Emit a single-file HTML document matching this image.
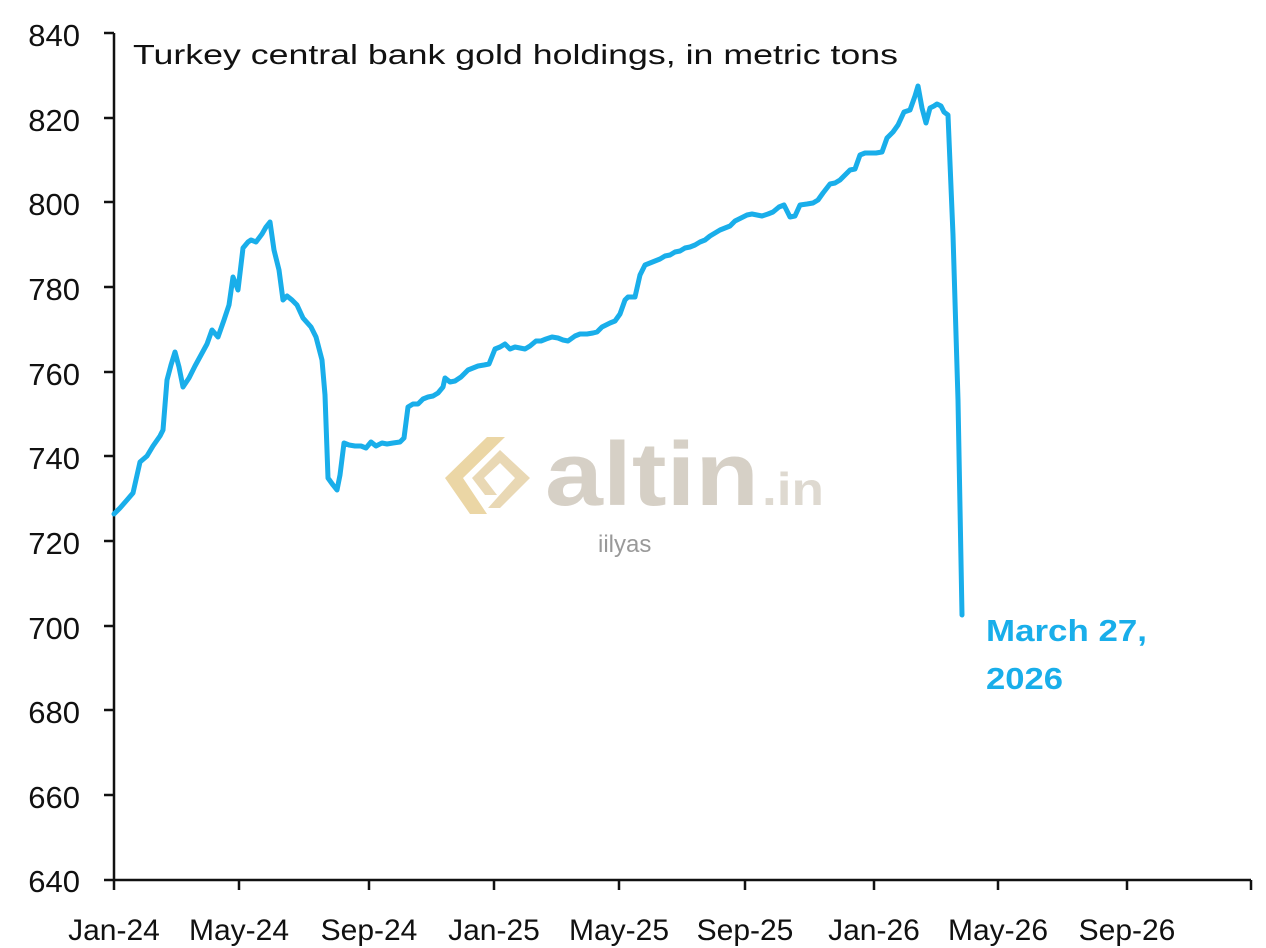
<!DOCTYPE html>
<html><head><meta charset="utf-8"><style>
html,body{margin:0;padding:0;background:#fff;width:1266px;height:948px;overflow:hidden}
text{font-family:"Liberation Sans",sans-serif}
</style></head><body>
<svg width="1266" height="948" viewBox="0 0 1266 948" xmlns="http://www.w3.org/2000/svg">
<g fill="#111" font-size="31" text-anchor="end">
<text x="80" y="46">840</text>
<text x="80" y="131">820</text>
<text x="80" y="215">800</text>
<text x="80" y="300">780</text>
<text x="80" y="385">760</text>
<text x="80" y="469">740</text>
<text x="80" y="554">720</text>
<text x="80" y="639">700</text>
<text x="80" y="723">680</text>
<text x="80" y="808">660</text>
<text x="80" y="892">640</text>
</g>
<g stroke="#111" stroke-width="2.5" fill="none">
<path d="M114,33V880H1251"/>
<path d="M104,33H114M104,118H114M104,202H114M104,287H114M104,372H114M104,456H114M104,541H114M104,626H114M104,710H114M104,795H114M104,880H114"/>
<path d="M114,880V890M239,880V890M369,880V890M494,880V890M619,880V890M745,880V890M874,880V890M998,880V890M1127,880V890M1251,880V890"/>
</g>
<g fill="#111" font-size="30" text-anchor="middle">
<text x="114" y="940">Jan-24</text>
<text x="239" y="940">May-24</text>
<text x="369" y="940">Sep-24</text>
<text x="494" y="940">Jan-25</text>
<text x="619" y="940">May-25</text>
<text x="745" y="940">Sep-25</text>
<text x="874" y="940">Jan-26</text>
<text x="998" y="940">May-26</text>
<text x="1127" y="940">Sep-26</text>
</g>
<text x="133" y="64" font-size="28" fill="#111" textLength="765" lengthAdjust="spacingAndGlyphs">Turkey central bank gold holdings, in metric tons</text>
<g opacity="0.85">
<polygon points="445,478 487,437 505,437 463,478 487,514 470,514" fill="#e8cf96"/>
<polygon points="472,478 500,450 530,478 500,508 488,508 515,478 500,463 484,478 497,495 485,495" fill="#e6d2a8"/>
<text x="545" y="505" font-size="90" font-weight="bold" fill="#cfc8bd" textLength="214" lengthAdjust="spacingAndGlyphs">altin</text>
<text x="762" y="505" font-size="46" font-weight="bold" fill="#d9d3c8" textLength="62" lengthAdjust="spacingAndGlyphs">.in</text>
<text x="598" y="552" font-size="24" fill="#888">iilyas</text>
</g>
<polyline fill="none" stroke="#19AEEA" stroke-width="5" stroke-linejoin="round" stroke-linecap="round" points="114,514 120,508 127,500 133,493 140,462 147,456 153,446 160,436 163,430 167,380 171,365 175,352 179,367 183,387 189,378 195,366 201,355 207,344 212,330 218,337 224,320 229,305 233,277 238,290 243,248 248,242 251,240 256,242 262,234 266,227 270,222 274,250 279,270 283,300 287,296 292,300 297,305 303,318 311,327 316,337 322,360 325,395 328,478 333,485 337,490 340,475 344,443 349,445 355,446 361,446 366,448 371,442 376,446 382,443 387,444 393,443 400,442 404,438 408,407 413,404 418,404 423,399 428,397 433,396 438,393 443,387 445,378 450,382 455,381 461,377 468,370 473,368 478,366 484,365 489,364 495,349 500,347 505,344 510,349 515,347 520,348 525,349 530,346 536,341 541,341 546,339 552,337 558,338 563,340 568,341 575,336 580,334 587,334 593,333 597,332 602,327 610,323 615,321 620,314 625,300 628,297 635,297 640,275 645,265 650,263 655,261 660,259 665,256 670,255 675,252 680,251 685,248 690,247 695,245 700,242 705,240 710,236 715,233 720,230 725,228 730,226 735,221 741,218 747,215 752,214 757,215 762,216 768,214 773,212 779,207 784,205 790,217 795,216 800,205 807,204 813,203 818,200 823,193 830,184 835,183 840,180 845,175 850,170 855,169 860,155 865,153 870,153 876,153 882,152 887,138 893,132 898,125 904,112 910,110 915,96 918,86 922,108 926,123 930,108 934,106 937,104 941,106 944,112 948,115 953,235 958,400 962,615"/>
<g fill="#19AEEA" font-size="31" font-weight="bold">
<text x="986" y="641" textLength="161" lengthAdjust="spacingAndGlyphs">March 27,</text>
<text x="986" y="689" textLength="77" lengthAdjust="spacingAndGlyphs">2026</text>
</g>
</svg>
</body></html>
